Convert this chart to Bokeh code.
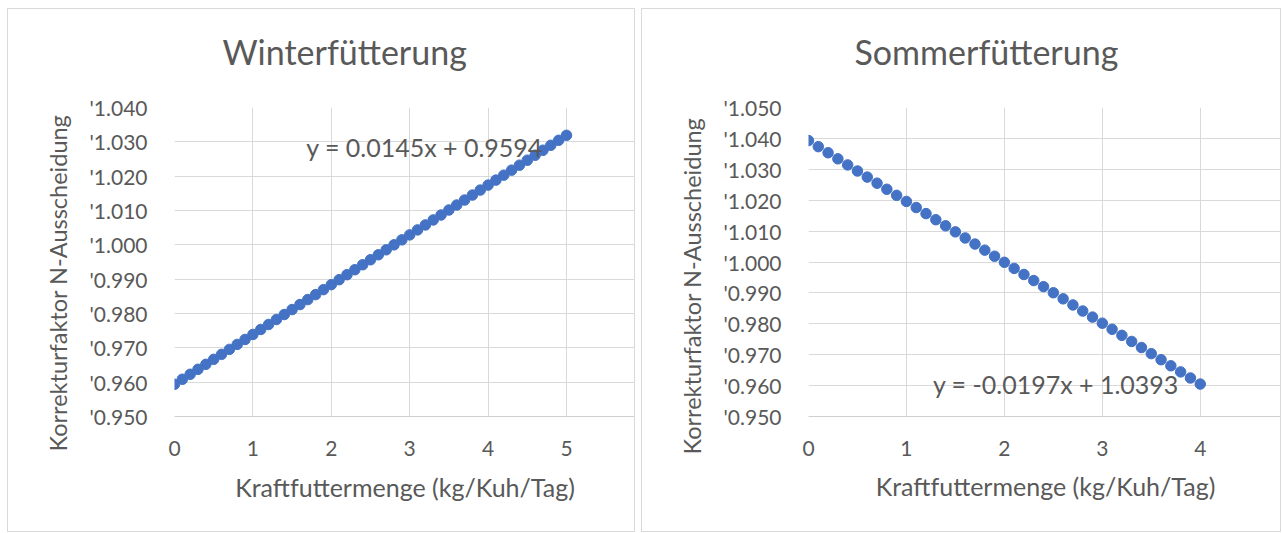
from bokeh.plotting import figure
from bokeh.layouts import row, column, Spacer
from bokeh.models import FixedTicker, CustomJSTickFormatter, Label, Range1d, Title
from bokeh.embed import file_html
from bokeh.resources import INLINE

# ---- data ----
winter_x = [round(i * 0.1, 1) for i in range(51)]
winter_y = [0.95940, 0.96085, 0.96230, 0.96375, 0.96520, 0.96665, 0.96810, 0.96955, 0.97100, 0.97245,
            0.97390, 0.97535, 0.97680, 0.97825, 0.97970, 0.98115, 0.98260, 0.98405, 0.98550, 0.98695,
            0.98840, 0.98985, 0.99130, 0.99275, 0.99420, 0.99565, 0.99710, 0.99855, 1.00000, 1.00145,
            1.00290, 1.00435, 1.00580, 1.00725, 1.00870, 1.01015, 1.01160, 1.01305, 1.01450, 1.01595,
            1.01740, 1.01885, 1.02030, 1.02175, 1.02320, 1.02465, 1.02610, 1.02755, 1.02900, 1.03045,
            1.03190]
sommer_x = [round(i * 0.1, 1) for i in range(41)]
sommer_y = [1.03930, 1.03733, 1.03536, 1.03339, 1.03142, 1.02945, 1.02748, 1.02551, 1.02354, 1.02157,
            1.01960, 1.01763, 1.01566, 1.01369, 1.01172, 1.00975, 1.00778, 1.00581, 1.00384, 1.00187,
            0.99990, 0.99793, 0.99596, 0.99399, 0.99202, 0.99005, 0.98808, 0.98611, 0.98414, 0.98217,
            0.98020, 0.97823, 0.97626, 0.97429, 0.97232, 0.97035, 0.96838, 0.96641, 0.96444, 0.96247,
            0.96050]
winter_xticks = [0, 1, 2, 3, 4, 5]
sommer_xticks = [0, 1, 2, 3, 4]
winter_yticks = [0.95, 0.96, 0.97, 0.98, 0.99, 1.00, 1.01, 1.02, 1.03, 1.04]
sommer_yticks = [0.95, 0.96, 0.97, 0.98, 0.99, 1.00, 1.01, 1.02, 1.03, 1.04, 1.05]
winter_title = "Winterfütterung"
sommer_title = "Sommerfütterung"
winter_eq = "y = 0.0145x + 0.9594"
sommer_eq = "y = -0.0197x + 1.0393"
x_label = "Kraftfuttermenge (kg/Kuh/Tag)"
y_label = "Korrekturfaktor N-Ausscheidung"

FONT = "Lato"
TXT = "#595959"
GRID = "#d9d9d9"
BLUE = "#4472C4"


def make(title, xs, ys, xticks, yticks, xend, eq, eqx, eqy, toff, yoff, xlstand,
         width, mleft, mtop, mbottom, mright):
    p = figure(width=width, height=524, output_backend="svg", toolbar_location=None,
               title=None,
               x_range=Range1d(0, xend), y_range=Range1d(yticks[0], yticks[-1]),
               min_border_left=mleft, min_border_top=mtop, min_border_bottom=mbottom,
               min_border_right=mright, outline_line_color=None,
               styles={"border": "1px solid #d9d9d9", "box-sizing": "border-box"})
    # spacer between frame and title, then the title itself (outer)
    p.add_layout(Title(text=" ", text_font_size="1px", standoff=32), "above")
    p.add_layout(Title(text=title, align="left", offset=toff, text_font=FONT,
                       text_font_size="34px", text_font_style="normal",
                       text_color=TXT, standoff=2), "above")

    p.xaxis.ticker = FixedTicker(ticks=xticks)
    p.yaxis.ticker = FixedTicker(ticks=yticks)
    p.yaxis.formatter = CustomJSTickFormatter(code="return \"'\" + tick.toFixed(3);")
    for ax in (p.xaxis, p.yaxis):
        ax.major_tick_line_color = None
        ax.minor_tick_line_color = None
        ax.major_label_text_font = FONT
        ax.major_label_text_font_size = "21px"
        ax.major_label_text_color = TXT
        ax.axis_label_text_font = FONT
        ax.axis_label_text_font_style = "normal"
        ax.axis_label_text_color = TXT
    p.xaxis.axis_label_text_font_size = "25px"
    p.xaxis.axis_line_color = "#cfcfcf"
    p.yaxis.axis_line_color = None
    p.xaxis.major_label_standoff = 18
    p.yaxis.major_label_standoff = 21
    p.xaxis.axis_label = x_label
    p.xaxis.axis_label_standoff = xlstand
    p.xgrid.grid_line_color = GRID
    p.ygrid.grid_line_color = GRID
    # y axis title as a side title so it can be shifted along the axis
    p.add_layout(Title(text=y_label, align="left", offset=yoff, text_font=FONT,
                       text_font_size="23.5px", text_font_style="normal",
                       text_color=TXT, standoff=30), "left")
    p.scatter(xs, ys, size=10.5, color=BLUE, line_color=BLUE)
    p.add_layout(Label(x=eqx, y=eqy, text=eq, text_font=FONT, text_font_size="25px",
                       text_color=TXT, text_baseline="middle", text_align="left"))
    return p


p1 = make(winter_title, winter_x, winter_y, winter_xticks, winter_yticks, 5.88,
          winter_eq, 1.68, 1.0285, 48, -35, 13, 628, 166, 98, 105, 1)
p2 = make(sommer_title, sommer_x, sommer_y, sommer_xticks, sommer_yticks, 4.84,
          sommer_eq, 1.27, 0.9605, 46, -38, 12, 640, 166, 98, 117, 0)

layout = column(Spacer(height=8),
                row(Spacer(width=7), p1, Spacer(width=6), p2, spacing=0),
                spacing=0)
open("out.html", "w").write(file_html(layout, INLINE))
